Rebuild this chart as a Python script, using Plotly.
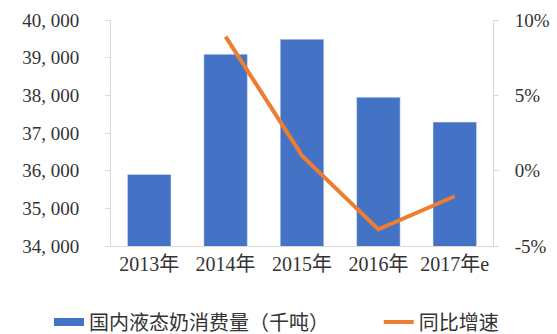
import plotly.graph_objects as go

categories = ["2013年", "2014年", "2015年", "2016年", "2017年e"]
consumption = [35900, 39090, 39490, 37950, 37290]
growth = [None, 8.9, 1.0, -3.9, -1.7]
left_ticks = [34000, 35000, 36000, 37000, 38000, 39000, 40000]
left_ticktext = ["34, 000", "35, 000", "36, 000", "37, 000", "38, 000", "39, 000", "40, 000"]
right_ticks = [-5, 0, 5, 10]
right_ticktext = ["-5%", "0%", "5%", "10%"]

font_fam = "Liberation Serif, Noto Sans CJK SC"
bar_color = "#4472C4"
line_color = "#ED7D31"

fig = go.Figure()
fig.add_trace(go.Bar(x=categories, y=consumption, name="国内液态奶消费量（千吨）",
                     marker=dict(color=bar_color), yaxis="y", showlegend=False))
# legend entry for bars drawn as a wide rectangle
fig.add_trace(go.Scatter(x=[None], y=[None], name="国内液态奶消费量（千吨）", mode="lines",
                         line=dict(color=bar_color, width=8), yaxis="y", legend="legend"))
fig.add_trace(go.Scatter(x=categories, y=growth, name="同比增速", mode="lines",
                         line=dict(color=line_color, width=4), yaxis="y2", legend="legend2"))

fig.update_layout(
    width=557, height=334,
    margin=dict(l=111, r=64, t=20, b=88),
    paper_bgcolor="white", plot_bgcolor="white",
    bargap=0.43,
    font=dict(family=font_fam, size=19, color="#333333"),
    xaxis=dict(showline=True, linecolor="#D9D9D9", linewidth=1, ticks="",
               tickfont=dict(size=20), showgrid=False, automargin=False),
    yaxis=dict(range=[34000, 40000], tickvals=left_ticks, ticktext=left_ticktext,
               showline=True, linecolor="#D9D9D9", ticks="outside", ticklen=5,
               tickcolor="#D9D9D9", showgrid=False, zeroline=False,
               tickfont=dict(size=19), automargin=False, ticklabelstandoff=22),
    yaxis2=dict(range=[-5, 10], tickvals=right_ticks, ticktext=right_ticktext,
                overlaying="y", side="right", showline=True, linecolor="#D9D9D9",
                ticks="outside", ticklen=5, tickcolor="#D9D9D9", showgrid=False,
                zeroline=False, tickfont=dict(size=19), automargin=False,
                ticklabelstandoff=12),
    legend=dict(orientation="h", xref="container", yref="container",
                x=0.088, xanchor="left", y=0.036, yanchor="middle",
                font=dict(size=20), bgcolor="rgba(0,0,0,0)"),
    legend2=dict(orientation="h", xref="container", yref="container",
                 x=0.68, xanchor="left", y=0.036, yanchor="middle",
                 font=dict(size=20), bgcolor="rgba(0,0,0,0)"),
)

fig.write_html("out.html")
